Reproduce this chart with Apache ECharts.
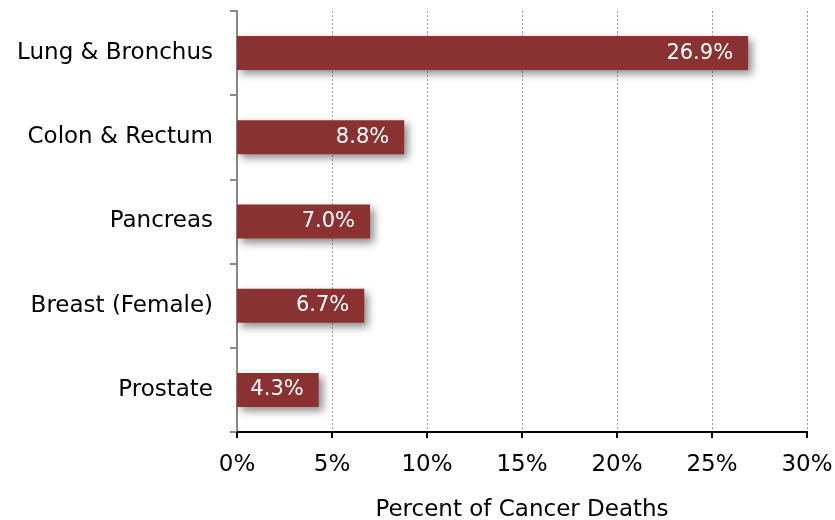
<!DOCTYPE html>
<html>
<head>
<meta charset="utf-8">
<script src="https://cdn.jsdelivr.net/npm/echarts@6/dist/echarts.min.js"></script>
<style>
  html, body { margin: 0; padding: 0; background: #fff; }
  #chart { width: 835px; height: 520px; }
</style>
</head>
<body>
<div id="chart"></div>
<script>
// cancer sites, top to bottom
const sites = ['Lung & Bronchus', 'Colon & Rectum', 'Pancreas', 'Breast (Female)', 'Prostate'];
// percent of cancer deaths
const percents = [26.9, 8.8, 7.0, 6.7, 4.3];
const xTicks = [0, 5, 10, 15, 20, 25, 30];

const font = '"DejaVu Sans", Verdana, sans-serif';
const chart = echarts.init(document.getElementById('chart'));

chart.setOption({
  animation: false,
  grid: { left: 237, right: 28, top: 11, bottom: 88, outerBoundsMode: 'none' },
  xAxis: {
    type: 'value',
    min: xTicks[0],
    max: xTicks[xTicks.length - 1],
    interval: 5,
    name: 'Percent of Cancer Deaths',
    nameLocation: 'middle',
    nameGap: 67,
    nameTextStyle: { fontFamily: font, fontSize: 23, color: '#000' },
    axisLine: { show: true, lineStyle: { color: '#000', width: 2 } },
    axisTick: { show: true, length: 6, lineStyle: { color: '#000', width: 2 } },
    axisLabel: {
      margin: 22,
      fontFamily: font, fontSize: 23, color: '#000',
      formatter: v => v + '%'
    },
    splitLine: { show: true, lineStyle: { color: '#999', type: [2, 2], width: 1 } }
  },
  yAxis: {
    type: 'category',
    inverse: true,
    data: sites,
    axisLine: { show: true, lineStyle: { color: '#888', width: 2 } },
    axisTick: { show: true, length: 7, lineStyle: { color: '#888', width: 2 } },
    axisLabel: { margin: 24, fontFamily: font, fontSize: 23, color: '#000' }
  },
  series: [{
    type: 'bar',
    data: percents,
    barWidth: 34,
    itemStyle: {
      color: '#8a3131',
      shadowColor: 'rgba(0,0,0,0.45)',
      shadowBlur: 8,
      shadowOffsetX: 4,
      shadowOffsetY: 4
    },
    label: {
      show: true,
      position: 'insideRight',
      distance: 15,
      fontFamily: font,
      fontSize: 21,
      color: '#fff',
      formatter: p => p.value.toFixed(1) + '%'
    }
  }]
});
</script>
</body>
</html>
